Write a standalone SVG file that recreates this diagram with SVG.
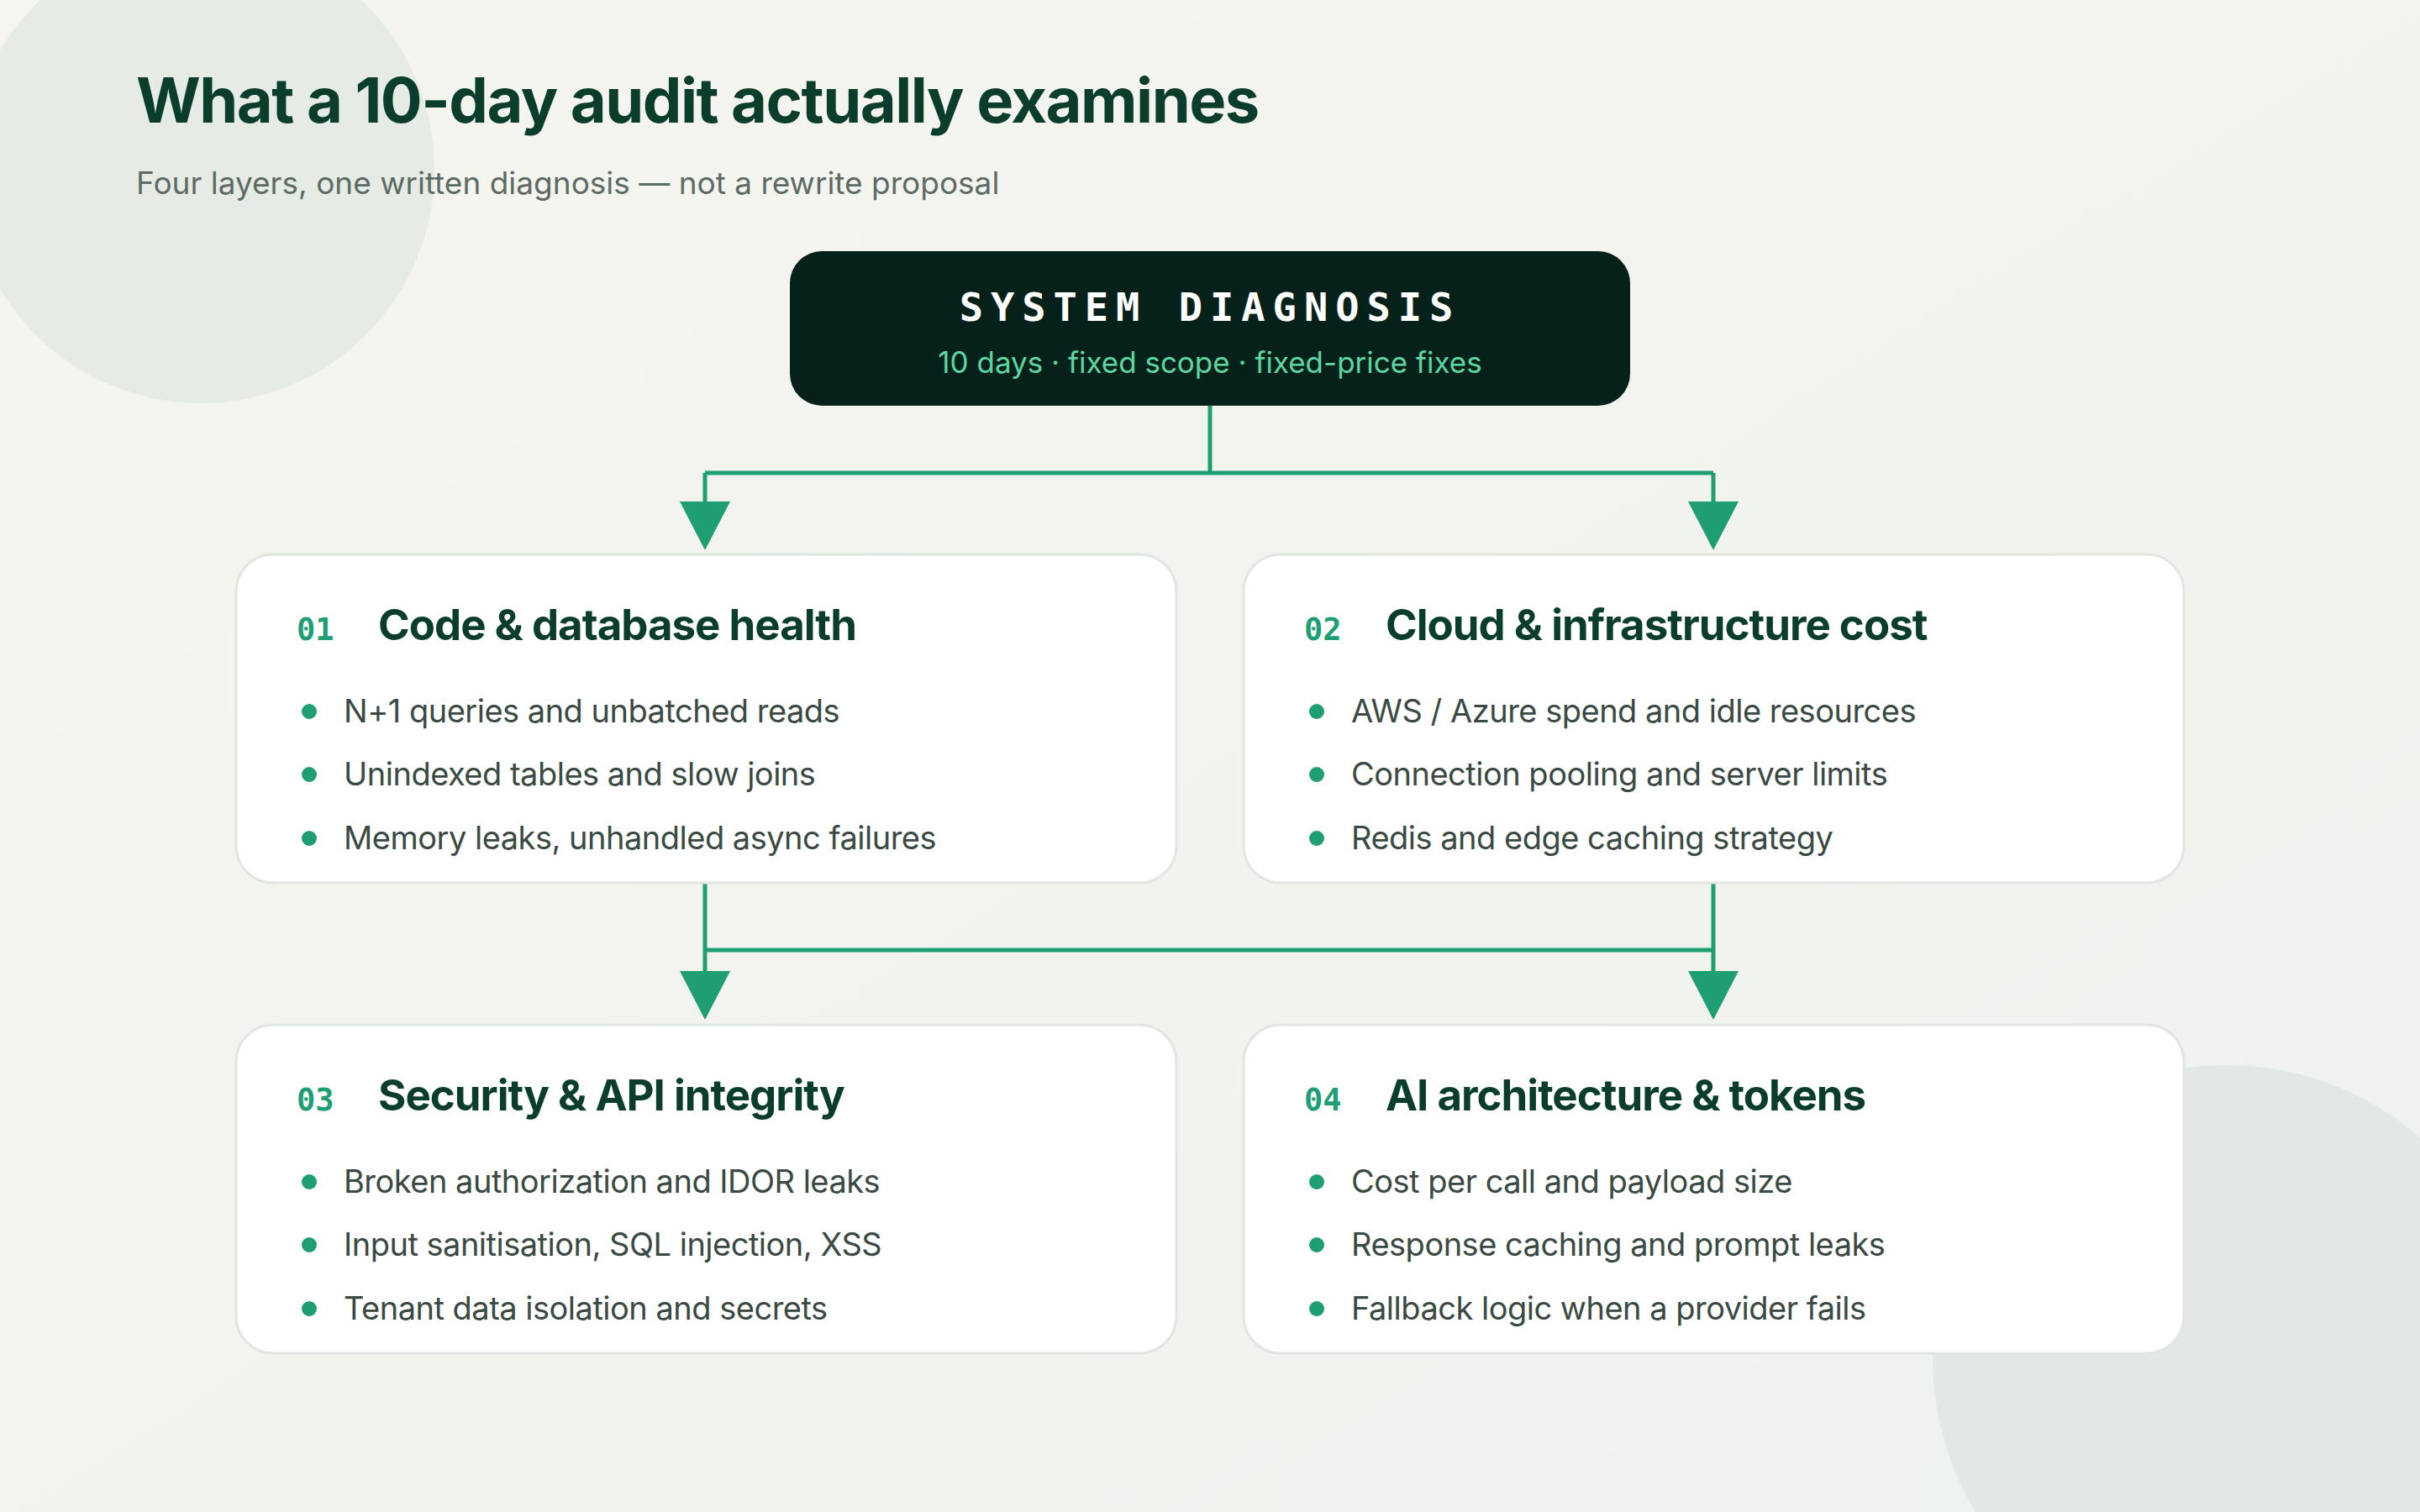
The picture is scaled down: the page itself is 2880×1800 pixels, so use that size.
<svg xmlns="http://www.w3.org/2000/svg" width="2880" height="1800" viewBox="0 0 2880 1800">
<defs>
<linearGradient id="bg" x1="0" y1="0" x2="1" y2="1"><stop offset="0" stop-color="#f6f5f0"/><stop offset="1" stop-color="#eef2ee"/></linearGradient>
<marker id="ah" viewBox="0 0 12 12" refX="6" refY="12" markerWidth="12" markerHeight="12" markerUnits="userSpaceOnUse" orient="auto"><path d="M0 0 L12 0 L6 12 Z" fill="#1f9e74"/></marker>
<style>
.card{fill:#fff;stroke:#e1e6e2;stroke-width:3}
.num{font-family:"DejaVu Sans Mono",monospace;font-weight:bold;font-size:37px;fill:#1f9e74}
.ttl{font-family:Inter,"Liberation Sans",sans-serif;font-weight:700;font-size:51px;fill:#0b3d2c;letter-spacing:-1px}
.it{font-family:Inter,"Liberation Sans",sans-serif;font-size:38px;fill:#3a4a42;letter-spacing:-0.5px}
.dot{fill:#1f9e74}
.ln{fill:none;stroke:#1f9e74;stroke-width:5}
.ar{fill:#1f9e74}
</style>
</defs>
<rect width="2880" height="1800" fill="url(#bg)"/>
<circle cx="239" cy="202" r="278" fill="#e6ebe5"/>
<circle cx="2650" cy="1618" r="350" fill="#e2e9e4"/>
<text x="162" y="146" font-family="Inter,'Liberation Sans',sans-serif" font-weight="700" font-size="74" fill="#0b3d2c" letter-spacing="-1.5">What a 10-day audit actually examines</text>
<text x="162" y="231" font-family="Inter,'Liberation Sans',sans-serif" font-size="37" fill="#5d6b64">Four layers, one written diagnosis — not a rewrite proposal</text>
<g id="root">
<rect x="940" y="299" width="1000" height="184" rx="38" fill="#06211a"/>
<text x="1440" y="382" text-anchor="middle" font-family="'DejaVu Sans Mono',monospace" font-weight="bold" font-size="47" fill="#fff" letter-spacing="9">SYSTEM DIAGNOSIS</text>
<text x="1440" y="444" text-anchor="middle" font-family="Inter,'Liberation Sans',sans-serif" font-size="35" fill="#5dd6a2">10 days · fixed scope · fixed-price fixes</text>
</g>
<g id="connectors">
<path class="ln" d="M1440 483 V563 M839 563 H2039 M839 563 V600 M2039 563 V600"/>
<path class="ar" d="M809 597 L869 597 L839 655 Z M2009 597 L2069 597 L2039 655 Z"/>
<path class="ln" d="M839 1051 V1160 M2039 1051 V1160 M839 1131 H2039"/>
<path class="ar" d="M809 1156 L869 1156 L839 1214 Z M2009 1156 L2069 1156 L2039 1214 Z"/>
</g>
<g id="card1">
<rect class="card" x="281" y="660" width="1119" height="391" rx="44"/>
<text class="num" x="353" y="762">01</text><text class="ttl" x="450" y="762">Code &amp; database health</text>
<circle class="dot" cx="368" cy="847" r="9"/><text class="it" x="409" y="860">N+1 queries and unbatched reads</text>
<circle class="dot" cx="368" cy="922" r="9"/><text class="it" x="409" y="935">Unindexed tables and slow joins</text>
<circle class="dot" cx="368" cy="998" r="9"/><text class="it" x="409" y="1011">Memory leaks, unhandled async failures</text>
</g>
<g id="card2">
<rect class="card" x="1480" y="660" width="1119" height="391" rx="44"/>
<text class="num" x="1552" y="762">02</text><text class="ttl" x="1649" y="762">Cloud &amp; infrastructure cost</text>
<circle class="dot" cx="1567" cy="847" r="9"/><text class="it" x="1608" y="860">AWS / Azure spend and idle resources</text>
<circle class="dot" cx="1567" cy="922" r="9"/><text class="it" x="1608" y="935">Connection pooling and server limits</text>
<circle class="dot" cx="1567" cy="998" r="9"/><text class="it" x="1608" y="1011">Redis and edge caching strategy</text>
</g>
<g id="card3">
<rect class="card" x="281" y="1220" width="1119" height="391" rx="44"/>
<text class="num" x="353" y="1322">03</text><text class="ttl" x="450" y="1322">Security &amp; API integrity</text>
<circle class="dot" cx="368" cy="1407" r="9"/><text class="it" x="409" y="1420">Broken authorization and IDOR leaks</text>
<circle class="dot" cx="368" cy="1482" r="9"/><text class="it" x="409" y="1495">Input sanitisation, SQL injection, XSS</text>
<circle class="dot" cx="368" cy="1558" r="9"/><text class="it" x="409" y="1571">Tenant data isolation and secrets</text>
</g>
<g id="card4">
<rect class="card" x="1480" y="1220" width="1119" height="391" rx="44"/>
<text class="num" x="1552" y="1322">04</text><text class="ttl" x="1649" y="1322">AI architecture &amp; tokens</text>
<circle class="dot" cx="1567" cy="1407" r="9"/><text class="it" x="1608" y="1420">Cost per call and payload size</text>
<circle class="dot" cx="1567" cy="1482" r="9"/><text class="it" x="1608" y="1495">Response caching and prompt leaks</text>
<circle class="dot" cx="1567" cy="1558" r="9"/><text class="it" x="1608" y="1571">Fallback logic when a provider fails</text>
</g>
</svg>
